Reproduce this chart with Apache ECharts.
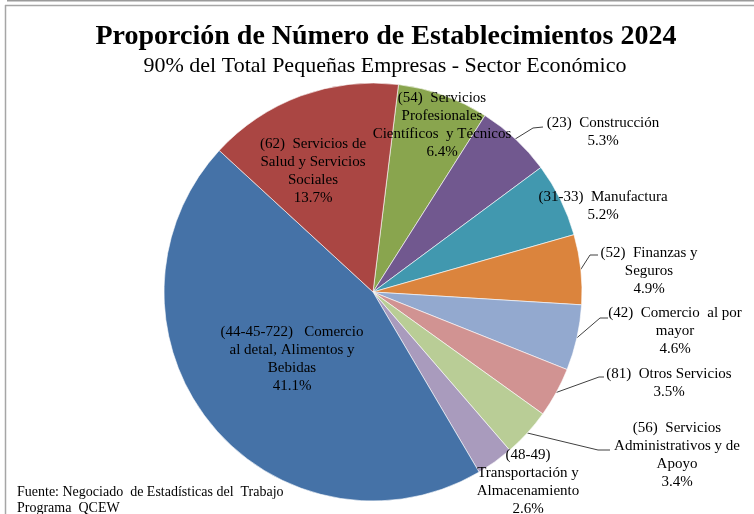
<!DOCTYPE html>
<html>
<head>
<meta charset="utf-8">
<script src="https://cdn.jsdelivr.net/npm/echarts@6/dist/echarts.min.js"></script>
<style>
html,body{margin:0;padding:0;background:#fff;}
#chart{width:754px;height:514px;}
</style>
</head>
<body>
<div id="chart"></div>
<script>
// ---- data ----
const titleText = 'Proporción de Número de Establecimientos 2024';
const subtitleText = '90% del Total Pequeñas Empresas - Sector Económico';
const sourceText = 'Fuente: Negociado  de Estadísticas del  Trabajo\nPrograma  QCEW';

const sectorLabels = [
  ['(54)  Servicios', 'Profesionales', 'Científicos  y Técnicos'],
  ['(23)  Construcción'],
  ['(31-33)  Manufactura'],
  ['(52)  Finanzas y', 'Seguros'],
  ['(42)  Comercio  al por', 'mayor'],
  ['(81)  Otros Servicios'],
  ['(56)  Servicios', 'Administrativos y de', 'Apoyo'],
  ['(48-49)', 'Transportación y', 'Almacenamiento'],
  ['(44-45-722)   Comercio', 'al detal, Alimentos y', 'Bebidas'],
  ['(62)  Servicios de', 'Salud y Servicios', 'Sociales']
];
const shares = [6.4, 5.3, 5.2, 4.9, 4.6, 3.5, 3.4, 2.6, 41.1, 13.7];

// ---- styling / layout ----
const colors = ['#89A54E', '#71588F', '#4198AF', '#DB843D', '#93A9CF',
                '#D19392', '#B9CD96', '#A99BBD', '#4572A7', '#AA4643'];
const pieCenter = [373, 292];
const pieRadius = 209;
const firstSliceAngle = 7; // degrees clockwise from 12 o'clock
// label block centres
const labelPos = [[442, 125], [603, 132], [603, 206], [649, 271], [675, 331],
                  [669, 383], [677, 455], [528, 482], [292, 359], [313, 171]];
// leader line bend/end points (null = no line)
const leaderPts = [null, [[533, 128], [543, 127]], null, [[590, 255], [598, 255]],
                   [[600, 318], [608, 318]], [[599, 377], [604, 377]],
                   [[598, 450], [610, 450]], null, null, null];

const total = shares.reduce((a, b) => a + b, 0);
const midAngles = [];
(function () {
  let cum = 0;
  shares.forEach(v => {
    midAngles.push(firstSliceAngle + (cum + v / 2) / total * 360);
    cum += v;
  });
})();

const chart = echarts.init(document.getElementById('chart'), null, {renderer: 'canvas'});
const serif = '"Liberation Serif", "Times New Roman", serif';

const option = {
  animation: false,
  color: colors,
  title: [
    {
      text: titleText, left: 386, textAlign: 'center', top: 21, padding: 0,
      textStyle: {fontFamily: serif, fontSize: 28, fontWeight: 'bold', color: '#000', lineHeight: 32}
    },
    {
      text: subtitleText, left: 385, textAlign: 'center', top: 54, padding: 0,
      textStyle: {fontFamily: serif, fontSize: 22, fontWeight: 'normal', color: '#000', lineHeight: 24}
    }
  ],
  graphic: [
    {type: 'line', shape: {x1: 7, y1: 0.5, x2: 754, y2: 0.5}, style: {stroke: '#9a9a9a', lineWidth: 2}},
    {type: 'line', shape: {x1: 5, y1: 5.5, x2: 754, y2: 5.5}, style: {stroke: '#a6a6a6', lineWidth: 1.5}},
    {type: 'line', shape: {x1: 5.5, y1: 5, x2: 5.5, y2: 514}, style: {stroke: '#a6a6a6', lineWidth: 1.5}},
    {
      type: 'text', left: 17, top: 484,
      style: {text: sourceText, font: '14px ' + serif, fill: '#000', lineHeight: 16}
    }
  ],
  series: [{
    type: 'pie',
    center: pieCenter,
    radius: pieRadius,
    startAngle: 90 - firstSliceAngle,
    clockwise: true,
    avoidLabelOverlap: false,
    silent: true,
    itemStyle: {borderColor: '#ffffff', borderWidth: 0.6},
    label: {
      show: true,
      position: 'outside',
      fontFamily: serif,
      fontSize: 15,
      lineHeight: 18,
      color: '#000',
      align: 'center',
      formatter: p => sectorLabels[p.dataIndex].join('\n') + '\n' + shares[p.dataIndex].toFixed(1) + '%'
    },
    labelLine: {show: true, lineStyle: {color: '#404040', width: 1}},
    labelLayout: function (params) {
      const i = params.dataIndex;
      const res = {x: labelPos[i][0], y: labelPos[i][1], align: 'center', verticalAlign: 'middle'};
      if (leaderPts[i]) {
        const a = midAngles[i] * Math.PI / 180;
        const start = [pieCenter[0] + pieRadius * Math.sin(a), pieCenter[1] - pieRadius * Math.cos(a)];
        res.labelLinePoints = [start, leaderPts[i][0], leaderPts[i][1]];
      }
      return res;
    },
    data: shares.map((v, i) => ({
      value: v,
      name: sectorLabels[i].join(' '),
      labelLine: {show: !!leaderPts[i]}
    }))
  }]
};
chart.setOption(option);
</script>
</body>
</html>
